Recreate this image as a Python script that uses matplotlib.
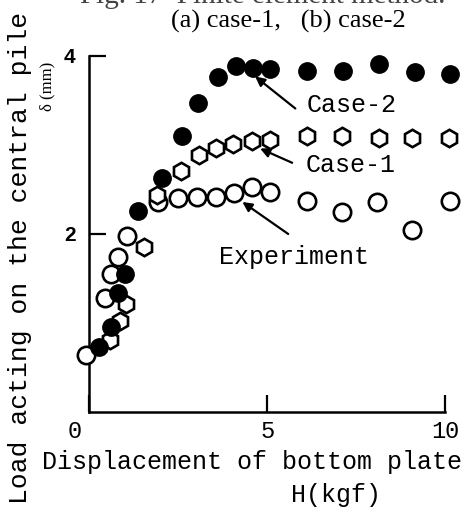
import matplotlib
matplotlib.use("Agg")
import matplotlib.pyplot as plt
import matplotlib.transforms as mtransforms

# H (kgf) vs delta (mm)
exp_h = [-0.1, 0.44, 0.61, 0.80, 1.06, 1.93, 2.49, 3.03, 3.56, 4.07, 4.58, 5.08,
         6.13, 7.11, 8.10, 9.08, 10.13]
exp_d = [0.64, 1.28, 1.55, 1.74, 1.98, 2.36, 2.40, 2.42, 2.42, 2.46, 2.53, 2.47,
         2.37, 2.25, 2.36, 2.05, 2.37]

case1_h = [0.58, 0.86, 1.03, 1.54, 1.90, 2.58, 3.08, 3.56, 4.04, 4.58, 5.08,
           6.13, 7.11, 8.13, 9.08, 10.10]
case1_d = [0.81, 1.02, 1.21, 1.85, 2.44, 2.71, 2.89, 2.97, 3.01, 3.04, 3.06,
           3.10, 3.10, 3.08, 3.08, 3.08]

case2_h = [0.27, 0.61, 0.80, 1.00, 1.37, 2.04, 2.61, 3.06, 3.62, 4.13, 4.61, 5.08,
           6.13, 7.14, 8.13, 9.17, 10.13]
case2_d = [0.73, 0.96, 1.34, 1.55, 2.26, 2.63, 3.10, 3.47, 3.76, 3.89, 3.86, 3.85,
           3.83, 3.83, 3.91, 3.82, 3.80]

x_ticks = [0, 5, 10]
y_ticks = [2, 4]

mono = "Liberation Mono"

fig = plt.figure(figsize=(4.7, 5.08), dpi=100)
ax = fig.add_axes([0.1904, 0.189, 0.7564, 0.7008])

mk = dict(linestyle="none", markersize=12.5, clip_on=False, zorder=3)
ax.plot(exp_h, exp_d, marker="o", markerfacecolor="white",
        markeredgecolor="black", markeredgewidth=1.9, **mk)
ax.plot(case1_h, case1_d, marker="h", markerfacecolor="white",
        markeredgecolor="black", markeredgewidth=1.9, **mk)
ax.plot(case2_h, case2_d, marker="o", color="black", **mk)

ax.set_xlim(0, 10)
ax.set_ylim(0, 4)
for side in ["top", "right"]:
    ax.spines[side].set_visible(False)
for side in ["left", "bottom"]:
    ax.spines[side].set_linewidth(1.8)

ax.set_xticks(x_ticks)
ax.set_xticklabels([str(t) for t in x_ticks], fontfamily=mono, fontsize=17)
ax.set_yticks(y_ticks)
ax.set_yticklabels([str(t) for t in y_ticks], fontfamily="Liberation Sans",
                   fontsize=15, fontweight="bold")
ax.tick_params(axis="both", direction="in", length=12, width=1.6)
ax.tick_params(axis="x", pad=6)
ax.tick_params(axis="y", pad=10)

# the "0" sits left of the origin
lbl0 = ax.get_xticklabels()[0]
lbl0.set_transform(lbl0.get_transform() +
                   mtransforms.ScaledTranslation(-0.15, 0, fig.dpi_scale_trans))

# labels and arrows
arrow = dict(arrowstyle="-|>", color="black", lw=1.6,
             mutation_scale=14, shrinkA=0, shrinkB=0)
ax.text(6.1, 3.45, "Case-2", fontfamily=mono, fontsize=18, va="center")
ax.annotate("", xy=(4.66, 3.77), xytext=(5.79, 3.41), arrowprops=arrow)
ax.text(6.07, 2.77, "Case-1", fontfamily=mono, fontsize=18, va="center")
ax.annotate("", xy=(4.80, 2.96), xytext=(5.70, 2.80), arrowprops=arrow)
ax.text(3.65, 1.74, "Experiment", fontfamily=mono, fontsize=18, va="center")
ax.annotate("", xy=(4.30, 2.36), xytext=(5.59, 2.00), arrowprops=arrow)

fig.text(252 / 470, 1 - 462 / 508, "Displacement of bottom plate",
         fontfamily=mono, fontsize=18, ha="center", va="center")
fig.text(336 / 470, 1 - 495 / 508, "H(kgf)",
         fontfamily=mono, fontsize=18, ha="center", va="center")
fig.text(20 / 470, 1 - 258 / 508, "Load acting on the central pile",
         fontfamily=mono, fontsize=19, ha="center", va="center", rotation=90)
fig.text(47 / 470, 1 - 86 / 508, "δ (mm)", fontfamily="Liberation Serif",
         fontsize=12, ha="center", va="center", rotation=90)
fig.text(288 / 470, 1 - 21 / 508, "(a) case-1,   (b) case-2",
         fontfamily="Liberation Serif", fontsize=19, ha="center", va="center")
# caption line above, cut by the top edge as in the scan
fig.text(263 / 470, 1 - 3 / 508, "Fig. 17  Finite element method.",
         fontfamily="Liberation Serif", fontsize=21, ha="center",
         va="baseline", color="#444444")

fig.savefig("out.png", dpi=100)
